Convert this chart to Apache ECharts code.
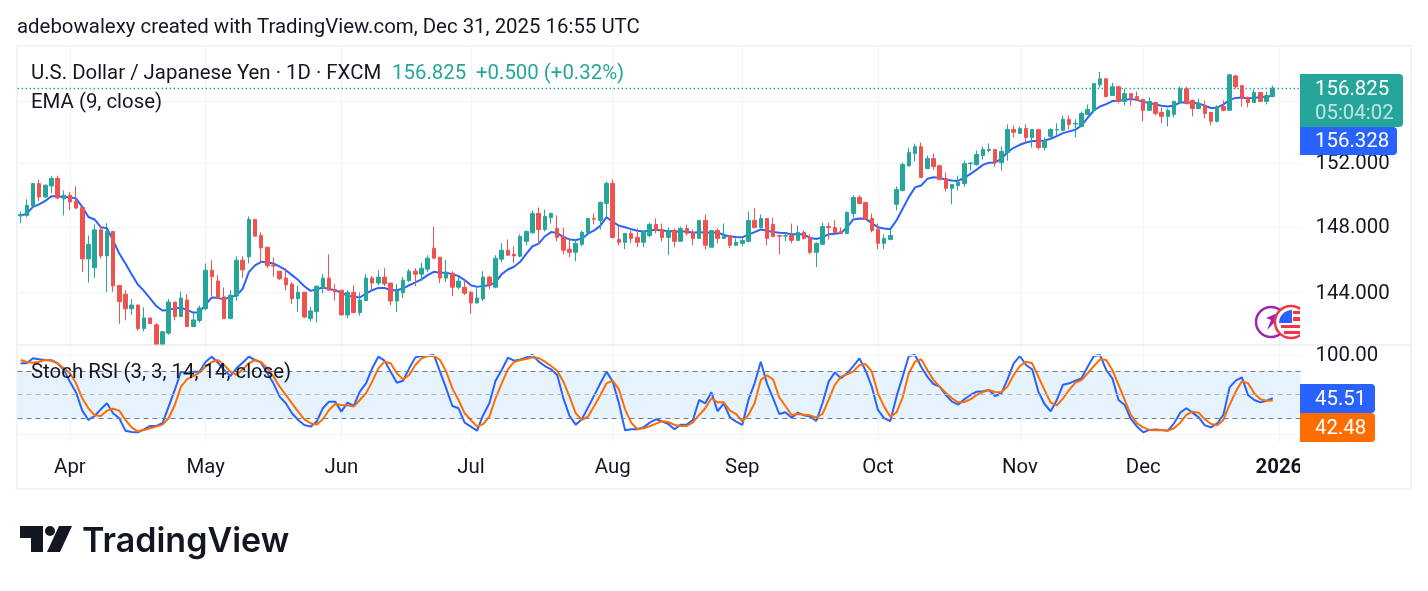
<!DOCTYPE html>
<html>
<head>
<meta charset="utf-8">
<title>USD/JPY daily</title>
<script src="https://cdn.jsdelivr.net/npm/echarts@6/dist/echarts.min.js"></script>
<style>
html,body{margin:0;padding:0;background:#fff}
#chart{width:1428px;height:591px}
</style>
</head>
<body>
<div id="chart"></div>
<script>
// Daily USD/JPY session values, one entry per trading day from 2025-03-20
const opens = [
148.69,148.71,149.30,150.70,149.86,150.55,151.02,149.74,149.97,149.59,
149.21,146.04,145.50,147.82,146.22,147.72,144.42,143.90,143.03,143.25,
141.85,142.48,142.07,140.89,141.58,143.43,142.56,143.55,141.97,142.33,
143.03,145.35,144.69,143.74,142.44,143.80,145.96,146.16,148.46,147.47,
146.75,145.66,145.29,144.87,144.51,143.63,144.02,142.44,142.86,144.30,
144.87,144.18,144.14,142.66,144.00,142.80,143.51,144.87,144.57,144.93,
144.57,143.49,143.98,144.71,145.29,145.11,145.41,146.69,146.14,144.87,
145.17,144.32,144.32,144.02,143.37,143.61,144.93,144.32,146.02,146.57,
146.32,146.20,147.11,147.64,148.83,147.84,148.58,147.90,147.41,146.63,
146.44,146.93,147.64,148.52,148.40,149.46,150.71,147.23,147.05,147.60,
147.35,147.05,147.47,148.15,147.84,147.35,147.78,147.11,147.90,147.66,
147.29,148.40,146.75,147.78,147.29,147.47,146.87,146.99,147.11,148.40,
147.96,148.52,148.15,147.47,147.43,147.47,147.17,147.66,147.35,146.44,
146.93,148.02,147.96,147.72,147.60,148.83,149.83,149.52,148.52,147.84,
146.99,147.23,149.40,150.27,151.83,152.60,153.04,151.65,152.28,151.83,
151.02,150.40,150.58,150.71,151.96,151.90,152.47,152.80,152.86,152.02,
152.67,154.15,153.89,154.21,153.63,154.15,152.99,153.70,154.11,154.09,
154.80,154.49,154.34,155.12,155.38,157.05,157.44,156.34,156.92,155.96,
156.47,156.28,156.09,155.38,155.89,155.25,154.99,155.12,155.89,156.79,
156.02,155.50,155.70,155.25,154.67,155.63,155.38,157.63,156.99,156.21,
155.89,156.54,155.96,156.28];
const closes = [
148.77,149.34,150.70,149.86,150.60,151.02,149.80,149.97,149.55,149.17,
146.04,146.93,147.82,146.22,147.72,144.40,143.45,143.03,143.25,141.85,
142.48,142.15,140.89,141.66,143.43,142.56,143.67,141.97,142.36,143.07,
145.35,144.95,143.65,142.44,143.84,145.96,145.37,148.46,147.43,146.71,
145.62,145.60,144.83,144.46,143.63,144.02,142.54,142.90,144.38,144.87,
144.14,144.04,142.66,144.00,142.80,143.55,144.87,144.57,144.93,144.53,
143.49,144.08,144.75,145.29,145.11,145.47,146.08,146.08,144.87,145.23,
144.32,144.69,143.96,143.37,143.67,144.93,144.44,146.08,146.57,146.26,
146.22,147.41,147.72,148.83,147.84,148.65,148.83,147.35,146.57,146.44,
146.99,147.66,148.52,148.48,149.52,150.71,147.35,147.05,147.60,147.29,
147.05,147.72,148.15,147.78,147.35,147.78,147.11,147.90,147.60,147.29,
148.40,146.87,147.78,147.29,147.41,146.87,147.05,147.17,148.40,147.96,
148.52,147.29,147.41,147.43,147.47,147.17,147.66,147.29,146.44,146.99,
148.02,147.96,147.66,147.60,148.90,149.83,149.46,148.46,147.78,146.99,
147.29,147.47,150.33,151.90,152.66,153.04,151.08,152.28,151.77,150.96,
150.40,150.65,150.77,151.96,152.00,152.54,152.86,152.86,152.02,152.73,
154.15,153.96,154.21,153.63,154.15,152.99,153.44,154.15,154.15,154.80,
154.47,154.54,155.18,155.44,157.12,157.44,156.28,156.92,155.96,156.47,
156.21,156.02,155.38,155.96,155.18,154.99,155.38,155.96,156.79,155.83,
155.50,155.83,155.18,154.67,155.63,155.38,157.70,156.92,156.15,155.89,
156.54,155.96,156.34,156.825];
const highs = [
148.96,149.72,150.74,150.95,150.64,151.16,151.20,150.28,150.18,150.53,
149.24,147.47,148.15,148.08,148.23,147.72,144.42,144.14,143.61,143.29,
143.11,142.48,142.17,141.71,143.61,143.43,144.06,143.90,142.76,143.23,
145.76,145.96,145.05,144.30,144.14,146.20,146.20,148.65,148.46,147.66,
146.75,146.12,145.29,145.47,144.63,144.42,144.02,143.15,144.42,145.11,
146.32,144.51,144.14,144.14,144.44,144.00,145.11,144.99,145.35,145.47,
144.57,144.51,144.93,145.41,145.47,145.78,146.26,148.02,146.14,145.96,
145.29,144.93,144.75,144.08,144.26,145.29,144.99,146.26,146.99,147.23,
146.81,147.54,147.78,149.02,149.21,149.08,148.90,148.71,147.96,147.23,
147.23,147.78,148.58,148.83,149.58,150.83,150.96,148.08,147.60,147.78,
147.90,147.72,148.27,148.52,148.21,147.96,147.90,148.02,148.15,147.84,
148.40,148.77,147.78,147.90,148.21,147.47,147.29,147.29,148.96,149.15,
148.77,148.52,148.58,147.47,147.66,148.21,148.08,147.78,147.54,147.05,
148.27,148.27,148.40,147.96,148.96,149.96,149.96,149.52,148.83,148.21,
147.54,147.84,150.52,152.02,152.98,153.24,153.30,152.47,152.60,151.90,
151.40,150.65,151.21,152.15,152.04,152.80,153.05,153.25,152.86,153.05,
154.47,154.41,154.34,154.47,154.15,154.15,153.63,154.21,154.54,155.05,
155.05,154.80,155.31,155.76,157.18,157.89,157.50,157.18,156.99,156.79,
156.47,156.60,156.15,156.21,155.89,155.57,155.50,156.02,156.92,156.92,
156.09,156.15,156.02,155.25,155.70,156.02,157.76,157.70,157.05,156.28,
156.73,156.54,156.60,156.99];
const lows = [
148.23,148.61,149.24,149.61,149.82,150.11,149.72,148.71,149.03,149.11,
145.23,144.59,144.87,146.06,144.04,144.04,142.13,142.33,142.66,141.73,
141.68,142.15,140.89,140.89,141.48,142.33,142.56,141.97,141.97,142.21,
142.92,143.78,143.59,142.44,142.44,143.51,144.87,145.76,147.43,145.76,
145.48,144.95,144.75,144.14,143.31,142.84,142.48,142.27,142.21,143.95,
144.10,143.51,142.62,142.46,142.76,142.62,143.51,144.14,144.44,144.38,
143.25,142.84,143.67,144.63,144.38,144.71,145.23,146.02,144.57,144.63,
143.78,144.20,143.84,142.72,143.37,143.49,144.20,144.26,145.84,146.22,
145.78,146.14,146.87,147.58,146.93,147.72,148.21,147.11,146.32,146.14,
145.90,146.81,147.60,148.15,147.84,148.52,147.29,146.87,146.63,146.99,
146.75,146.75,147.35,147.60,147.11,146.26,146.75,147.11,147.47,146.87,
147.29,146.63,146.75,146.99,147.29,146.69,146.81,146.81,147.05,147.90,
147.90,146.87,147.35,146.32,147.11,146.99,147.17,147.23,146.32,145.54,
146.87,147.23,147.60,147.54,147.54,148.58,149.40,148.46,147.66,146.63,
146.63,147.17,149.02,150.21,151.77,152.09,151.08,151.65,151.58,150.90,
150.21,149.40,150.27,150.48,151.52,151.83,152.22,152.67,151.77,151.52,
152.15,153.63,153.89,153.31,152.99,152.86,152.80,153.50,153.70,154.09,
154.15,153.63,154.34,155.12,155.25,156.86,156.21,156.34,155.83,155.70,
155.70,156.02,154.67,155.38,155.05,154.54,154.34,154.92,155.83,155.76,
154.99,155.44,154.86,154.41,154.60,155.31,155.38,156.79,155.63,155.57,
155.89,155.96,155.76,156.28];
// EMA (9, close)
const emaValues = [
148.71,148.82,149.24,149.40,149.61,149.91,149.91,149.86,149.84,149.76,
149.24,148.61,148.46,147.98,147.92,147.17,146.36,145.76,145.11,144.48,
144.10,143.65,143.19,142.92,142.96,143.05,143.09,142.96,142.80,142.82,
143.29,143.70,143.68,143.59,143.74,143.82,144.22,145.23,145.64,145.86,
145.82,145.76,145.56,145.35,145.05,144.75,144.38,144.10,144.20,144.30,
144.22,144.14,143.98,143.82,143.74,143.70,143.94,144.14,144.28,144.28,
144.14,144.14,144.24,144.44,144.61,144.79,145.05,145.25,145.19,145.19,
145.11,144.99,144.75,144.44,144.34,144.40,144.44,144.61,145.11,145.39,
145.56,145.86,146.36,146.81,146.97,147.41,147.68,147.62,147.37,147.23,
147.19,147.27,147.58,147.78,148.08,148.60,148.31,148.08,147.98,147.86,
147.76,147.72,147.78,147.82,147.78,147.74,147.72,147.72,147.72,147.64,
147.68,147.64,147.66,147.66,147.50,147.41,147.37,147.35,147.52,147.68,
147.84,147.76,147.68,147.64,147.62,147.54,147.54,147.54,147.31,147.25,
147.37,147.54,147.58,147.62,147.98,148.46,148.52,148.50,148.23,147.98,
147.90,147.86,148.40,149.12,149.85,150.46,150.58,151.00,151.10,151.06,
150.94,150.90,150.87,151.06,151.31,151.58,151.88,152.02,152.04,152.26,
152.69,152.97,153.16,153.31,153.40,153.40,153.44,153.55,153.72,153.91,
154.02,154.13,154.39,154.90,155.38,155.63,155.78,155.98,156.00,156.06,
156.11,156.06,155.93,155.85,155.76,155.68,155.63,155.70,155.89,155.91,
155.87,155.83,155.68,155.53,155.55,155.76,156.06,156.19,156.21,156.17,
156.19,156.24,156.26,156.328];
// Stoch RSI (3, 3, 14, 14, close)
const stochK = [
89.6,89.6,95.9,94.6,93.8,93.4,89.6,81.2,66.4,52.6,
29.8,18.1,23.1,31.5,39.1,26.5,20.2,4.6,2.9,2.5,
6.3,10.5,10.5,13.9,34.9,55.9,79.0,76.9,79.0,79.0,
91.6,97.9,90.3,81.1,73.5,83.2,90.3,97.9,93.7,90.3,
76.9,64.3,47.5,39.1,26.5,18.1,11.8,9.7,16.0,32.8,
41.2,41.2,28.6,40.0,35.7,53.8,64.3,83.2,97.9,92.9,
79.0,65.1,67.6,83.2,97.0,98.7,98.7,100,79.0,57.9,
35.7,32.8,14.7,9.7,4.6,24.4,39.1,67.6,81.1,96.6,
92.8,94.5,97.0,100,91.6,86.1,81.9,74.8,45.4,23.1,
12.2,18.9,34.0,49.1,64.3,79.0,66.4,39.1,5.0,6.3,
6.3,8.8,14.7,18.9,16.4,13.0,6.3,12.2,12.2,18.1,
43.3,39.1,52.9,29.0,39.1,21.4,16.0,11.8,43.3,64.3,
91.6,64.3,45.4,25.6,27.7,21.0,27.3,23.9,22.3,16.8,
39.1,66.4,78.1,70.6,76.9,86.1,95.8,80.2,60.1,30.7,
20.2,16.8,47.5,72.7,98.7,100,85.3,72.7,63.4,60.1,
49.6,41.2,37.4,44.1,49.6,53.8,54.2,55.9,48.3,51.7,
69.3,89.5,98.7,87.4,81.9,53.8,38.2,29.0,43.3,62.6,
64.3,67.6,70.6,85.3,98.7,100,81.1,70.6,43.3,37.0,
19.3,9.7,2.5,5.5,5.9,5.5,4.6,13.9,27.3,32.8,
27.3,21.4,11.3,8.8,13.9,24.4,59.2,67.6,71.8,49.6,
43.3,40.3,42.4,45.51];
const stochD = [
93.7,91.1,90.3,91.6,93.7,92.9,89.5,83.2,76.9,64.3,
45.4,32.8,24.0,23.1,29.8,32.3,29.8,18.1,8.8,3.8,
5.5,7.6,9.7,12.2,20.2,37.0,60.1,69.7,73.5,77.7,
85.3,91.2,93.7,87.4,79.0,74.8,81.9,89.5,93.7,91.2,
83.2,72.7,60.1,49.6,39.1,28.6,18.9,13.9,12.2,18.9,
30.7,38.2,37.0,36.5,34.9,43.3,51.7,66.4,83.2,91.6,
89.5,76.9,69.3,74.8,87.4,95.8,98.7,99.1,93.7,79.0,
57.9,43.3,26.5,18.1,9.7,13.0,22.3,45.4,64.3,81.9,
91.2,93.7,95.0,97.0,96.2,91.6,86.1,80.2,66.4,47.5,
26.5,18.1,22.3,35.7,49.6,64.3,67.6,56.7,31.5,14.7,
6.3,7.6,10.1,13.4,16.4,15.5,11.8,10.5,10.5,15.1,
24.4,32.8,45.4,40.3,40.3,29.8,25.6,16.4,24.4,39.1,
68.5,74.3,69.3,46.6,35.7,24.4,25.6,24.8,23.9,21.0,
25.6,43.3,62.2,72.7,75.6,79.4,87.4,88.6,79.0,51.7,
34.9,22.3,27.3,46.6,76.9,91.6,94.5,81.1,68.5,60.1,
52.5,45.4,40.3,40.7,44.1,49.6,53.3,55.9,53.3,52.9,
60.1,74.8,86.1,91.6,89.5,72.7,55.9,39.9,36.5,45.4,
55.9,65.1,68.5,76.9,86.1,94.5,93.7,81.1,62.2,43.3,
24.4,13.9,8.8,5.5,5.0,5.5,4.6,7.6,14.7,24.4,
28.6,27.3,18.9,13.0,11.3,18.1,37.0,53.8,66.8,64.3,
51.7,44.1,42.4,42.48];

const tickDates = ['2025-04-01','2025-05-01','2025-06-02','2025-07-01','2025-08-01','2025-09-01','2025-10-01','2025-11-03','2025-12-01','2026-01-01'];
const tickLabels = ['Apr','May','Jun','Jul','Aug','Sep','Oct','Nov','Dec','2026'];
const priceGrid = [144, 148, 152];
const priceGridUnlabelled = [156];
const oscBands = [20, 50, 80];
const lastPrice = 156.825;

// Weekday sessions, with the Christmas closure left out and a few future sessions on the right
const categories = [];
for (let d = new Date(Date.UTC(2025, 2, 20)); categories.length < 208; d = new Date(d.getTime() + 86400000)) {
  const wd = d.getUTCDay();
  const key = d.toISOString().slice(0, 10);
  if (wd !== 0 && wd !== 6 && key !== '2025-12-25') categories.push(key);
}

const INK = '#131722', UP = '#26a69a', DOWN = '#ef5350', BLUE = '#2962ff', ORANGE = '#ff6d00', GRIDC = '#f0f3fa';
const FONT = 'Roboto, Arial, sans-serif';
const FS = 20.4;
const candles = opens.map((o, i) => [o, closes[i], lows[i], highs[i]]);
const tickSet = new Set(tickDates);

const verticalGrid = {
  show: true,
  alignWithLabel: true,
  interval: (i, v) => tickSet.has(v),
  lineStyle: { color: GRIDC, width: 1 }
};

const label = (x, y, text, fill, extra) => ({
  type: 'text', z: 12,
  style: Object.assign({ x, y, text, fill, font: FS + 'px ' + FONT, verticalAlign: 'middle', align: 'left' }, extra || {})
});
const box = (x, y, width, height, fill, r) => ({
  type: 'rect', z: 11, shape: { x, y, width, height, r }, style: { fill }
});

const option = {
  animation: false,
  backgroundColor: '#ffffff',
  grid: [
    { left: 17.5, width: 1283, top: 46, height: 299 },
    { left: 17.5, width: 1283, top: 346, height: 96 }
  ],
  xAxis: [
    { type: 'category', gridIndex: 0, data: categories, boundaryGap: true,
      axisLine: { show: false }, axisTick: { show: false }, axisLabel: { show: false }, splitLine: verticalGrid },
    { type: 'category', gridIndex: 1, data: categories, boundaryGap: true,
      axisLine: { show: false }, axisTick: { show: false },
      axisLabel: {
        show: true, margin: 16, fontFamily: FONT, fontSize: FS, color: INK, hideOverlap: false,
        interval: (i, v) => tickSet.has(v),
        formatter: v => {
          const t = tickLabels[tickDates.indexOf(v)];
          return v === '2026-01-01' ? '{y|' + t + '}' : t;
        },
        rich: { y: { fontFamily: FONT, fontSize: FS, fontWeight: 700, color: INK } }
      },
      splitLine: verticalGrid }
  ],
  yAxis: [
    { type: 'log', logBase: 10, gridIndex: 0, min: 140.88, max: 159.61, show: false, splitLine: { show: false } },
    { type: 'value', gridIndex: 1, min: -9.71, max: 111.35, show: false, splitLine: { show: false } }
  ],
  series: [
    {
      type: 'line', name: 'EMA', xAxisIndex: 0, yAxisIndex: 0, data: emaValues, z: 1,
      showSymbol: false, symbol: 'none', lineStyle: { color: BLUE, width: 2 }
    },
    {
      type: 'candlestick', name: 'USDJPY', xAxisIndex: 0, yAxisIndex: 0, data: candles, z: 2,
      barWidth: 4,
      itemStyle: { color: UP, color0: DOWN, borderColor: UP, borderColor0: DOWN, borderWidth: 1 },
      markLine: {
        silent: true, symbol: 'none', animation: false, z: 0,
        data: [
          ...priceGrid.map(p => ({
            yAxis: p,
            lineStyle: { color: GRIDC, width: 1, type: 'solid' },
            label: { show: true, position: 'end', distance: 15, formatter: p.toFixed(3), fontFamily: FONT, fontSize: FS, color: INK, offset: [0, 1] }
          })),
          ...priceGridUnlabelled.map(p => ({
            yAxis: p, lineStyle: { color: GRIDC, width: 1, type: 'solid' }, label: { show: false }
          })),
          {
            yAxis: lastPrice,
            lineStyle: { color: UP, width: 1.3, type: [1.5, 2.5] }, label: { show: false }
          }
        ]
      }
    },
    {
      type: 'line', name: '%K', xAxisIndex: 1, yAxisIndex: 1, data: stochK, z: 3,
      showSymbol: false, symbol: 'none', lineStyle: { color: BLUE, width: 2 },
      markArea: {
        silent: true, animation: false,
        itemStyle: { color: '#e6f3fd' },
        data: [[{ yAxis: oscBands[0] }, { yAxis: oscBands[2] }]]
      },
      markLine: {
        silent: true, symbol: 'none', animation: false,
        data: [
          { yAxis: oscBands[2], lineStyle: { color: '#787b86', width: 1, type: [5, 4] }, label: { show: false } },
          { yAxis: oscBands[1], lineStyle: { color: '#b4b6bc', width: 1, type: [5, 4] }, label: { show: false } },
          { yAxis: oscBands[0], lineStyle: { color: '#787b86', width: 1, type: [5, 4] }, label: { show: false } },
          { yAxis: 0, lineStyle: { color: GRIDC, width: 1, type: 'solid' }, label: { show: false } },
          { yAxis: 100, lineStyle: { color: GRIDC, width: 1, type: 'solid' },
            label: { show: true, position: 'end', distance: 15, formatter: '100.00', fontFamily: FONT, fontSize: FS, color: INK, offset: [0, 1] } }
        ]
      }
    },
    {
      type: 'line', name: '%D', xAxisIndex: 1, yAxisIndex: 1, data: stochD, z: 4,
      showSymbol: false, symbol: 'none', lineStyle: { color: ORANGE, width: 2 }
    }
  ],
  graphic: { elements: [
    // Pane frame and separator
    { type: 'rect', z: 0, shape: { x: 17, y: 46, width: 1394, height: 443 }, style: { fill: 'none', stroke: GRIDC, lineWidth: 2 } },
    { type: 'line', z: 9, shape: { x1: 17, y1: 345, x2: 1411, y2: 345 }, style: { stroke: '#e0e3eb', lineWidth: 1 } },
    // Exchange badges in the corner of the price pane
    { type: 'circle', z: 6, shape: { cx: 1271, cy: 322, r: 15 }, style: { fill: '#fff', stroke: '#9c27b0', lineWidth: 2.5 } },
    { type: 'polygon', z: 6, shape: { points: [[1282, 311], [1278, 327], [1275, 322], [1267, 330], [1271, 320], [1266, 318]] }, style: { fill: '#9c27b0' } },
    { type: 'circle', z: 7, shape: { cx: 1291, cy: 322, r: 16 }, style: { fill: '#fff', stroke: '#f23645', lineWidth: 2.5 } },
    { type: 'sector', z: 7, shape: { cx: 1292, cy: 323, r: 13, r0: 0, startAngle: Math.PI, endAngle: Math.PI * 1.5 }, style: { fill: '#2962ff' } },
    { type: 'rect', z: 7, shape: { x: 1293, y: 311, width: 7, height: 3 }, style: { fill: '#f23645' } },
    { type: 'rect', z: 7, shape: { x: 1293, y: 317, width: 7, height: 4 }, style: { fill: '#f23645' } },
    { type: 'rect', z: 7, shape: { x: 1281, y: 325, width: 19, height: 3 }, style: { fill: '#f23645' } },
    { type: 'rect', z: 7, shape: { x: 1284, y: 331, width: 16, height: 3 }, style: { fill: '#f23645' } },
    // Price scale background hides whatever runs past the pane edge
    { type: 'rect', z: 10, shape: { x: 1300, y: 300, width: 40, height: 44 }, style: { fill: '#fff' } },
    { type: 'rect', z: 10, shape: { x: 1300, y: 443, width: 40, height: 44 }, style: { fill: '#fff' } },
    // Last-value tags
    box(1300, 74, 103, 53, UP, [0, 4, 4, 0]),
    box(1300, 127, 97, 28, BLUE, [0, 4, 4, 0]),
    box(1300, 384, 75, 29, BLUE, [0, 4, 4, 0]),
    box(1300, 413, 75, 29, ORANGE, [0, 4, 4, 0]),
    label(1315, 89.5, '156.825', '#ffffff'),
    label(1315, 114, '05:04:02', 'rgba(255,255,255,0.7)'),
    label(1315, 142, '156.328', '#ffffff'),
    label(1315, 400, '45.51', '#ffffff'),
    label(1315, 429, '42.48', '#ffffff'),
    // Titles and legends
    label(17, 27.5, 'adebowalexy created with TradingView.com, Dec 31, 2025 16:55 UTC', INK),
    label(31, 73.5, 'U.S. Dollar / Japanese Yen \u00b7 1D \u00b7 FXCM', INK),
    label(392, 73.5, '156.825', UP),
    label(476, 73.5, '+0.500 (+0.32%)', UP),
    label(31, 102.5, 'EMA (9, close)', INK),
    label(31, 372.5, 'Stoch RSI (3, 3, 14, 14, close)', INK),
    // Brand mark
    { type: 'polygon', z: 12, shape: { points: [[20, 526], [43, 526], [43, 552], [31, 552], [31, 538], [20, 538]] }, style: { fill: '#131722' } },
    { type: 'circle', z: 12, shape: { cx: 50, cy: 531, r: 5 }, style: { fill: '#131722' } },
    { type: 'polygon', z: 12, shape: { points: [[59, 526], [72, 526], [60, 552], [47, 552]] }, style: { fill: '#131722' } },
    label(82, 542, 'TradingView', '#131722', { font: '600 34px Inter, Roboto, sans-serif' })
  ] }
};

const chart = echarts.init(document.getElementById('chart'), null, { renderer: 'canvas', width: 1428, height: 591 });
chart.setOption(option);
</script>
</body>
</html>
